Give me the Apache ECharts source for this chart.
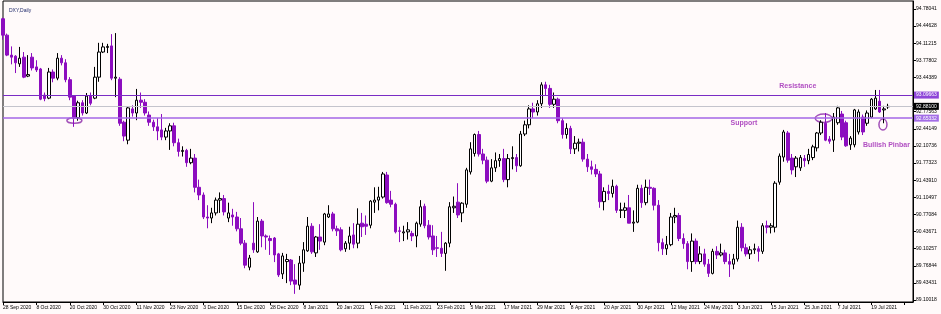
<!DOCTYPE html>
<html><head><meta charset="utf-8">
<script src="https://cdn.jsdelivr.net/npm/echarts@6/dist/echarts.min.js"></script>
<style>html,body{margin:0;padding:0;background:#FFFAFA}#c{width:941px;height:314px}</style>
</head><body><div id="c"></div><script>
const dates = [
"28 Sep 2020","29 Sep 2020","30 Sep 2020",
"1 Oct 2020","2 Oct 2020","5 Oct 2020","6 Oct 2020","7 Oct 2020","8 Oct 2020","9 Oct 2020","12 Oct 2020","13 Oct 2020","14 Oct 2020","15 Oct 2020","16 Oct 2020","19 Oct 2020","20 Oct 2020","21 Oct 2020","22 Oct 2020","23 Oct 2020","26 Oct 2020","27 Oct 2020","28 Oct 2020","29 Oct 2020","30 Oct 2020",
"2 Nov 2020","3 Nov 2020","4 Nov 2020","5 Nov 2020","6 Nov 2020","9 Nov 2020","10 Nov 2020","11 Nov 2020","12 Nov 2020","13 Nov 2020","16 Nov 2020","17 Nov 2020","18 Nov 2020","19 Nov 2020","20 Nov 2020","23 Nov 2020","24 Nov 2020","25 Nov 2020","26 Nov 2020","27 Nov 2020","30 Nov 2020",
"1 Dec 2020","2 Dec 2020","3 Dec 2020","4 Dec 2020","7 Dec 2020","8 Dec 2020","9 Dec 2020","10 Dec 2020","11 Dec 2020","14 Dec 2020","15 Dec 2020","16 Dec 2020","17 Dec 2020","18 Dec 2020","21 Dec 2020","22 Dec 2020","23 Dec 2020","24 Dec 2020","28 Dec 2020","29 Dec 2020","30 Dec 2020","31 Dec 2020",
"4 Jan 2021","5 Jan 2021","6 Jan 2021","7 Jan 2021","8 Jan 2021","11 Jan 2021","12 Jan 2021","13 Jan 2021","14 Jan 2021","15 Jan 2021","18 Jan 2021","19 Jan 2021","20 Jan 2021","21 Jan 2021","22 Jan 2021","25 Jan 2021","26 Jan 2021","27 Jan 2021","28 Jan 2021","29 Jan 2021",
"1 Feb 2021","2 Feb 2021","3 Feb 2021","4 Feb 2021","5 Feb 2021","8 Feb 2021","9 Feb 2021","10 Feb 2021","11 Feb 2021","12 Feb 2021","15 Feb 2021","16 Feb 2021","17 Feb 2021","18 Feb 2021","19 Feb 2021","22 Feb 2021","23 Feb 2021","24 Feb 2021","25 Feb 2021","26 Feb 2021",
"1 Mar 2021","2 Mar 2021","3 Mar 2021","4 Mar 2021","5 Mar 2021","8 Mar 2021","9 Mar 2021","10 Mar 2021","11 Mar 2021","12 Mar 2021","15 Mar 2021","16 Mar 2021","17 Mar 2021","18 Mar 2021","19 Mar 2021","22 Mar 2021","23 Mar 2021","24 Mar 2021","25 Mar 2021","26 Mar 2021","29 Mar 2021","30 Mar 2021","31 Mar 2021",
"1 Apr 2021","2 Apr 2021","5 Apr 2021","6 Apr 2021","7 Apr 2021","8 Apr 2021","9 Apr 2021","12 Apr 2021","13 Apr 2021","14 Apr 2021","15 Apr 2021","16 Apr 2021","19 Apr 2021","20 Apr 2021","21 Apr 2021","22 Apr 2021","23 Apr 2021","26 Apr 2021","27 Apr 2021","28 Apr 2021","29 Apr 2021","30 Apr 2021",
"3 May 2021","4 May 2021","5 May 2021","6 May 2021","7 May 2021","10 May 2021","11 May 2021","12 May 2021","13 May 2021","14 May 2021","17 May 2021","18 May 2021","19 May 2021","20 May 2021","21 May 2021","24 May 2021","25 May 2021","26 May 2021","27 May 2021","28 May 2021","31 May 2021",
"1 Jun 2021","2 Jun 2021","3 Jun 2021","4 Jun 2021","7 Jun 2021","8 Jun 2021","9 Jun 2021","10 Jun 2021","11 Jun 2021","14 Jun 2021","15 Jun 2021","16 Jun 2021","17 Jun 2021","18 Jun 2021","21 Jun 2021","22 Jun 2021","23 Jun 2021","24 Jun 2021","25 Jun 2021","28 Jun 2021","29 Jun 2021","30 Jun 2021",
"1 Jul 2021","2 Jul 2021","5 Jul 2021","6 Jul 2021","7 Jul 2021","8 Jul 2021","9 Jul 2021","12 Jul 2021","13 Jul 2021","14 Jul 2021","15 Jul 2021","16 Jul 2021","19 Jul 2021","20 Jul 2021","21 Jul 2021","22 Jul 2021","23 Jul 2021"
];
const opens = [94.59,94.27,93.88,93.86,93.71,93.84,93.47,93.84,93.65,93.61,93.10,93.04,93.55,93.43,93.82,93.73,93.40,93.08,92.66,92.95,92.75,93.08,93.04,93.45,93.94,94.03,94.06,93.43,93.41,92.57,92.22,92.83,92.75,93.00,92.96,92.71,92.57,92.48,92.42,92.28,92.40,92.50,92.17,92.00,92.02,91.78,91.87,91.30,91.15,90.72,90.70,90.80,91.05,91.08,90.70,90.76,90.72,90.49,90.21,89.74,90.21,90.04,90.64,90.35,90.30,90.31,90.00,89.61,89.85,89.88,89.49,89.39,89.82,90.06,90.54,90.02,90.33,90.23,90.72,90.78,90.49,90.47,90.10,90.21,90.37,90.21,90.60,90.58,90.56,91.01,91.05,91.11,91.54,91.05,90.97,90.45,90.41,90.43,90.40,90.35,90.58,90.93,90.56,90.35,90.12,90.11,90.01,90.21,90.90,91.01,90.80,90.97,91.60,91.96,92.33,91.95,91.83,91.42,91.68,91.82,91.86,91.45,91.86,91.88,91.72,92.34,92.52,92.83,92.77,92.93,93.30,93.23,92.92,93.02,92.60,92.33,92.45,92.05,92.16,92.18,91.85,91.70,91.65,91.56,91.02,91.22,91.18,91.32,90.85,90.85,90.90,90.60,90.62,91.28,91.00,91.30,91.28,90.95,90.22,90.10,90.18,90.72,90.75,90.30,90.20,89.85,90.25,89.85,90.00,89.80,89.62,90.05,89.98,90.02,89.85,89.80,89.90,90.52,90.12,90.00,90.08,90.10,90.05,90.55,90.52,90.52,91.40,91.89,92.36,91.87,91.70,91.68,91.86,91.82,91.88,92.07,92.36,92.55,92.24,92.22,92.56,92.73,92.56,92.13,92.13,92.38,92.67,92.55,92.67,92.83,92.98,92.81,92.87];
const highs = [94.61,94.30,94.05,93.88,94.04,93.94,93.88,93.92,93.78,93.63,93.15,93.63,93.60,93.92,93.88,93.80,93.45,93.10,92.99,93.00,93.14,93.15,93.65,94.12,94.12,94.10,94.29,94.31,93.45,92.60,92.87,92.90,93.22,93.15,93.02,92.78,92.62,92.65,92.73,92.46,92.55,92.56,92.25,92.10,92.05,92.05,91.95,91.45,91.20,90.95,90.90,91.10,91.20,91.15,91.00,90.88,90.82,90.70,90.27,89.98,91.01,90.72,90.68,90.38,90.36,90.33,90.02,90.02,90.00,89.90,89.80,89.96,90.23,90.72,90.60,90.35,90.58,90.80,90.95,90.82,90.55,90.52,90.25,90.53,90.60,90.89,90.80,90.75,91.05,91.30,91.31,91.60,91.60,91.23,91.00,90.53,90.55,90.62,90.45,90.63,91.05,90.98,90.66,90.56,90.35,90.43,90.23,91.01,91.12,91.38,91.01,91.68,92.18,92.35,92.40,92.05,91.90,91.85,91.98,91.95,92.05,91.95,92.10,91.95,92.40,92.60,92.90,92.95,93.00,93.35,93.36,93.30,93.15,93.05,92.65,92.55,92.50,92.30,92.25,92.25,91.95,91.82,91.75,91.62,91.30,91.35,91.45,91.35,91.00,91.00,91.15,90.85,91.35,91.35,91.45,91.45,91.30,91.05,90.30,90.35,90.80,90.90,90.80,90.40,90.25,90.40,90.30,90.15,90.10,89.90,90.10,90.15,90.20,90.08,90.00,90.00,90.65,90.60,90.20,90.15,90.20,90.15,90.60,90.65,90.60,91.42,91.96,92.42,92.40,91.95,91.91,91.93,91.93,92.05,92.13,92.38,92.61,92.75,92.30,92.75,92.89,92.79,92.60,92.30,92.83,92.82,92.72,92.80,93.04,93.20,93.20,92.89,92.93];
const lows = [94.18,93.86,93.70,93.53,93.65,93.43,93.45,93.58,93.55,93.00,92.98,93.02,93.35,93.39,93.68,93.35,93.00,92.48,92.60,92.70,92.73,92.90,93.02,93.36,93.92,93.92,93.39,93.06,92.50,92.20,92.14,92.68,92.61,92.85,92.70,92.50,92.40,92.22,92.22,92.22,92.03,92.10,91.90,91.90,91.70,91.75,91.20,91.05,90.68,90.50,90.60,90.75,90.80,90.75,90.62,90.55,90.44,90.17,89.72,89.68,90.02,90.02,90.13,90.08,89.98,89.84,89.55,89.51,89.43,89.39,89.22,89.30,89.65,90.04,90.00,89.94,90.08,90.17,90.70,90.44,90.35,90.05,90.04,90.08,90.11,90.11,90.33,90.37,90.50,90.80,90.85,91.08,90.98,90.91,90.40,90.23,90.25,90.28,90.25,90.13,90.53,90.50,90.28,89.98,89.94,89.94,89.67,90.13,90.80,90.70,90.62,90.90,91.55,91.90,91.90,91.75,91.38,91.40,91.60,91.70,91.40,91.30,91.65,91.60,91.70,92.30,92.45,92.65,92.70,92.85,93.10,92.85,92.85,92.55,92.25,92.25,91.95,91.95,92.00,91.80,91.60,91.55,91.50,90.90,90.85,91.05,91.10,90.80,90.70,90.70,90.60,90.43,90.60,90.90,90.95,91.15,90.85,90.05,89.98,89.98,90.15,90.60,90.25,90.10,89.70,89.65,89.80,89.80,89.75,89.55,89.60,89.90,89.95,89.80,89.55,89.70,89.85,90.05,89.95,89.90,90.00,89.85,90.00,90.40,90.40,90.42,91.35,91.80,91.78,91.55,91.50,91.62,91.70,91.75,91.83,92.00,92.32,92.20,92.15,91.99,92.52,92.22,92.09,92.03,92.08,92.33,92.32,92.50,92.65,92.81,92.75,92.55,92.83];
const closes = [94.27,93.88,93.84,93.73,93.82,93.45,93.50,93.63,93.59,93.02,93.03,93.55,93.43,93.82,93.73,93.40,93.06,92.65,92.95,92.75,93.08,92.94,93.45,93.94,94.04,94.05,93.43,93.45,92.55,92.30,92.85,92.75,93.00,92.96,92.75,92.57,92.48,92.40,92.28,92.40,92.50,92.17,92.00,92.02,91.78,91.87,91.30,91.15,90.72,90.70,90.80,91.05,91.08,90.82,90.80,90.72,90.49,90.21,89.78,89.92,90.08,90.64,90.35,90.33,90.26,89.98,89.59,89.96,89.89,89.47,89.41,89.82,90.08,90.54,90.04,90.33,90.25,90.78,90.78,90.49,90.45,90.08,90.21,90.35,90.19,90.58,90.53,90.54,91.03,91.05,91.11,91.56,91.00,90.97,90.43,90.44,90.43,90.47,90.35,90.60,90.92,90.55,90.33,90.08,90.11,90.01,90.21,90.92,90.93,90.76,90.99,91.64,92.05,92.33,91.95,91.83,91.42,91.68,91.82,91.86,91.45,91.86,91.88,91.72,92.34,92.52,92.83,92.77,92.93,93.30,93.23,92.92,93.02,92.60,92.33,92.45,92.05,92.16,92.18,91.85,91.70,91.65,91.56,91.02,91.22,91.18,91.32,90.85,90.86,90.90,90.60,90.62,91.28,91.00,91.30,91.28,90.95,90.22,90.10,90.18,90.72,90.75,90.30,90.20,89.85,90.25,89.85,90.00,89.80,89.62,90.05,89.98,90.02,89.85,89.80,89.90,90.52,90.12,90.00,90.08,90.10,90.05,90.55,90.52,90.55,91.38,91.91,92.38,91.83,91.64,91.87,91.88,91.82,91.94,92.09,92.36,92.57,92.22,92.20,92.67,92.85,92.28,92.11,92.26,92.81,92.77,92.38,92.75,93.02,93.04,92.77,92.83,92.88];
const yTicks = [89.10018,89.43431,89.76844,90.10257,90.43671,90.77084,91.10497,91.43910,91.77323,92.10736,92.44149,92.77563,93.10976,93.44389,93.77802,94.11215,94.44628,94.78041];
const yMin = 89.06114, yMax = 94.93630;
const levels = [
  {name:"bid", value:92.88100, text:"92.88100", line:'#C4C4CC', width:1, tagBg:'#000000'},
  {name:"resistance", value:93.09663, text:"93.09663", line:'#7A2CC4', width:1, tagBg:'#8E45D8'},
  {name:"support", value:92.65332, text:"92.65332", line:'#A466E6', width:1.6, tagBg:'#A36CE6'}
];
const extraSlots = 6;
const notes = [
  {text:"Resistance", idx:190.4, price:93.277, align:"center"},
  {text:"Support", idx:177.5, price:92.555, align:"center"},
  {text:"Bullish Pinbar", idx:206.0, price:92.126, align:"left"}
];
const rings = [
  {idx:17.1, price:92.604, rx:7.5, ry:2.8},
  {idx:196.6, price:92.647, rx:8.5, ry:4.2},
  {idx:210.8, price:92.526, rx:4, ry:5.5}
];

const cats = dates.concat(new Array(extraSlots).fill(''));
const ohlc = dates.map((d,i)=>[opens[i], closes[i], lows[i], highs[i]]);
const FONT = 'Liberation Sans';
const chart = echarts.init(document.getElementById('c'), null, {renderer:'canvas'});
chart.setOption({
  animation:false,
  backgroundColor:'#FFFAFA',
  title:{text:'DXY,Daily', left:4, top:3, textStyle:{fontSize:5, fontWeight:'normal', color:'#1F2A6B', fontFamily:FONT}},
  grid:{left:2, right:28, top:1, bottom:12, show:true, borderColor:'#000', borderWidth:1, backgroundColor:'transparent'},
  xAxis:{type:'category', data:cats, boundaryGap:false,
    axisLine:{lineStyle:{color:'#000', width:1}},
    axisTick:{interval:7, length:3, lineStyle:{color:'#000'}},
    axisLabel:{interval:7, fontSize:5, color:'#000', align:'left', margin:3, fontFamily:FONT},
    splitLine:{show:false}},
  yAxis:{type:'value', position:'right', min:yMin, max:yMax, scale:true,
    axisLine:{show:true, lineStyle:{color:'#000', width:1}},
    axisTick:{show:true, length:3, customValues:yTicks, lineStyle:{color:'#000'}},
    axisLabel:{customValues:yTicks, fontSize:5, color:'#000', margin:3, fontFamily:FONT, formatter:(v)=>v.toFixed(5)},
    splitLine:{show:false}},
  series:[{
    type:'candlestick', data:ohlc, barWidth:3,
    itemStyle:{color:'#FFFFFF', color0:'#8C0DBF', borderColor:'#000000', borderColor0:'#8C0DBF', borderWidth:1},
    markLine:{silent:true, symbol:['none','none'], animation:false,
      data: levels.map(l=>({yAxis:l.value, lineStyle:{color:l.line, width:l.width, type:'solid'},
        label:{show:true, position:'end', distance:1, color:'#fff', backgroundColor:l.tagBg,
          fontSize:5, fontFamily:FONT, padding:[1,2,1,2], formatter:l.text}}))
    }
  }]
});
const p0 = chart.convertToPixel({xAxisIndex:0, yAxisIndex:0}, [0, levels[2].value]);
const p1 = chart.convertToPixel({xAxisIndex:0, yAxisIndex:0}, [1, levels[2].value]);
const step = p1[0]-p0[0];
function px(idx, price){
  const y = chart.convertToPixel({yAxisIndex:0}, price);
  return [p0[0]+idx*step, y];
}
const g = [];
notes.forEach(n=>{
  const p = px(n.idx, n.price);
  g.push({type:'text', x:p[0], y:p[1], silent:true,
    style:{text:n.text, fill:'#B14FC2', font:'bold 7px "Liberation Sans"', textAlign:n.align, textVerticalAlign:'middle'}});
});
rings.forEach(r=>{
  const p = px(r.idx, r.price);
  g.push({type:'ellipse', silent:true, shape:{cx:p[0], cy:p[1], rx:r.rx, ry:r.ry},
    style:{fill:'none', stroke:'#A24FB8', lineWidth:1.5}});
});
chart.setOption({graphic:g});
</script></body></html>
